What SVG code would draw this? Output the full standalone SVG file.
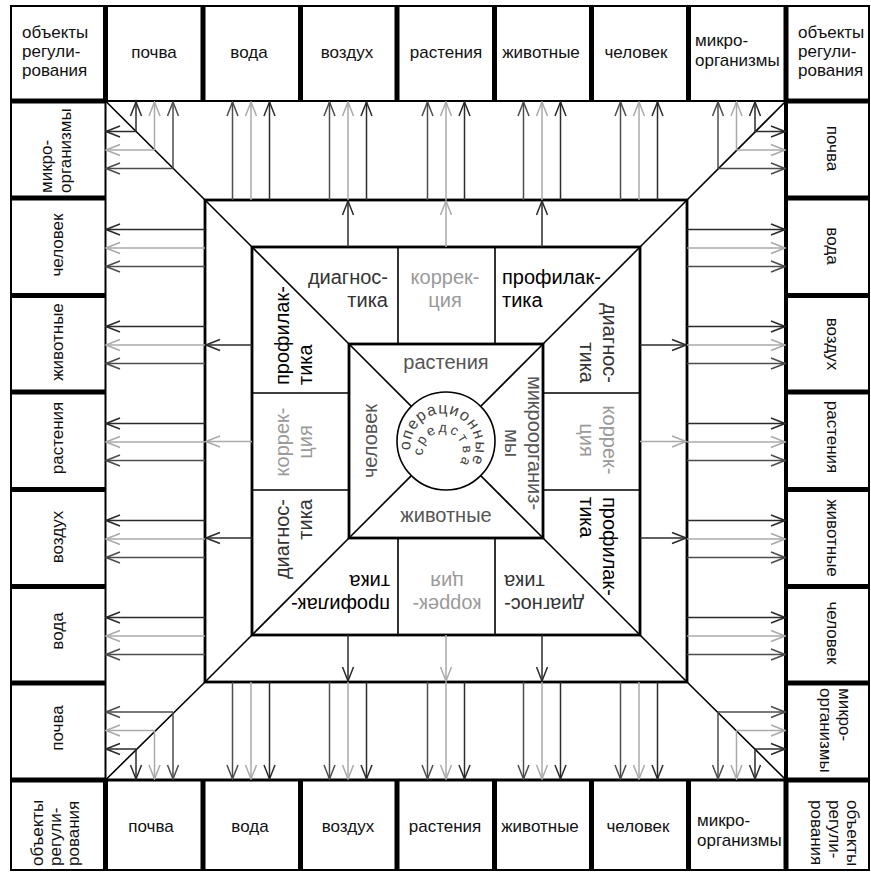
<svg xmlns="http://www.w3.org/2000/svg" width="871" height="872" viewBox="0 0 871 872">
<style>
text{font-family:"Liberation Sans",Arial,sans-serif;}
.lbl{font-size:17px;fill:#111;}
.r3{font-size:20px;}
.dg{fill:#333;}
.kr{fill:#9a9a9a;}
.pf{fill:#000;}
.r4{font-size:20px;fill:#555;}
.ct{font-size:16px;fill:#444;}
.mid{text-anchor:middle;}
.end{text-anchor:end;}
.thin{stroke:#000;stroke-width:2;fill:none;}
.thick{stroke:#000;stroke-width:5;fill:none;}
.sq{stroke:#000;stroke-width:2.8;fill:none;}
.dl{stroke:#000;stroke-width:1.6;fill:none;}
.a1{stroke:#4d4d4d;stroke-width:1.5;marker-end:url(#m1);}
.a2{stroke:#aaaaaa;stroke-width:1.5;marker-end:url(#m2);}
.a3{stroke:#2b2b2b;stroke-width:1.5;marker-end:url(#m3);}
</style>
<defs>
<marker id="m1" markerUnits="userSpaceOnUse" viewBox="0 0 16 14" markerWidth="16" markerHeight="14" refX="15" refY="7" orient="auto"><path d="M1,1.5 L15,7 L1,12.5" fill="none" stroke="#4d4d4d" stroke-width="1.5"/></marker>
<marker id="m2" markerUnits="userSpaceOnUse" viewBox="0 0 16 14" markerWidth="16" markerHeight="14" refX="15" refY="7" orient="auto"><path d="M1,1.5 L15,7 L1,12.5" fill="none" stroke="#aaaaaa" stroke-width="1.5"/></marker>
<marker id="m3" markerUnits="userSpaceOnUse" viewBox="0 0 16 14" markerWidth="16" markerHeight="14" refX="15" refY="7" orient="auto"><path d="M1,1.5 L15,7 L1,12.5" fill="none" stroke="#2b2b2b" stroke-width="1.5"/></marker>
<path id="arcO" d="M411.3,453.3 A32.5,32.5 0 1,1 469,465.6"/>
<path id="arcI" d="M423,453.7 A20,20 0 1,1 459.4,463.5"/>
</defs>
<rect width="871" height="872" fill="#fff"/>

<!-- grid -->
<g id="grid">
<rect class="thin" x="11" y="6" width="858" height="864"/>
<line class="thin" x1="105" y1="101" x2="786" y2="101"/>
<line class="thin" x1="105.5" y1="101" x2="105.5" y2="780"/>
<line class="thin" x1="105" y1="780" x2="786" y2="780" style="stroke-width:3"/>
<line class="thin" x1="786" y1="101" x2="786" y2="780" style="stroke-width:4"/>
<path class="thick" d="M105.5,6V101M203,6V101M300.5,6V101M397,6V101M494.5,6V101M591.5,6V101M688.5,6V101M786,6V101"/>
<path class="thick" d="M105.5,780V870M203,780V870M300.5,780V870M397,780V870M494.5,780V870M591.5,780V870M688.5,780V870M786,780V870"/>
<path class="thick" d="M11,101H105.5M11,198H105.5M11,295.5H105.5M11,392H105.5M11,489.5H105.5M11,586.5H105.5M11,683H105.5M11,780H105.5"/>
<path class="thick" d="M786,101H869M786,198H869M786,295.5H869M786,392H869M786,489.5H869M786,586.5H869M786,683H869M786,780H869"/>
</g>

<!-- rings -->
<g id="rings">
<rect class="sq" x="205" y="200" width="482" height="482"/>
<rect class="sq" x="252" y="247" width="388" height="388"/>
<rect class="sq" x="349" y="344" width="194" height="194"/>
<circle class="dl" cx="446" cy="441" r="49"/>
<polyline class="dl" points="105.5,101 205,200 252,247 349,344 411.35,406.35"/>
<polyline class="dl" points="786,101 687,200 640,247 543,344 480.65,406.35"/>
<polyline class="dl" points="105.5,780 205,682 252,635 349,538 411.35,475.65"/>
<polyline class="dl" points="786,780 687,682 640,635 543,538 480.65,475.65"/>
<path class="dl" d="M398,247V344M495,247V344M398,538V635M495,538V635M252,393H349M252,490H349M543,393H640M543,490H640"/>
</g>

<!-- connectors -->
<g id="connectors">
<!-- top -->
<line class="a1" x1="232.5" y1="200" x2="232.5" y2="102"/><line class="a2" x1="251" y1="200" x2="251" y2="102"/><line class="a3" x1="269.5" y1="200" x2="269.5" y2="102"/>
<line class="a1" x1="329.5" y1="200" x2="329.5" y2="102"/><line class="a2" x1="348" y1="200" x2="348" y2="102"/><line class="a3" x1="366.5" y1="200" x2="366.5" y2="102"/>
<line class="a1" x1="427.5" y1="200" x2="427.5" y2="102"/><line class="a2" x1="446" y1="200" x2="446" y2="102"/><line class="a3" x1="464.5" y1="200" x2="464.5" y2="102"/>
<line class="a1" x1="523.5" y1="200" x2="523.5" y2="102"/><line class="a2" x1="542" y1="200" x2="542" y2="102"/><line class="a3" x1="560.5" y1="200" x2="560.5" y2="102"/>
<line class="a1" x1="620.5" y1="200" x2="620.5" y2="102"/><line class="a2" x1="639" y1="200" x2="639" y2="102"/><line class="a3" x1="657.5" y1="200" x2="657.5" y2="102"/>
<!-- bottom -->
<line class="a1" x1="232.5" y1="682" x2="232.5" y2="779"/><line class="a2" x1="251" y1="682" x2="251" y2="779"/><line class="a3" x1="269.5" y1="682" x2="269.5" y2="779"/>
<line class="a1" x1="329.5" y1="682" x2="329.5" y2="779"/><line class="a2" x1="348" y1="682" x2="348" y2="779"/><line class="a3" x1="366.5" y1="682" x2="366.5" y2="779"/>
<line class="a1" x1="427.5" y1="682" x2="427.5" y2="779"/><line class="a2" x1="446" y1="682" x2="446" y2="779"/><line class="a3" x1="464.5" y1="682" x2="464.5" y2="779"/>
<line class="a1" x1="523.5" y1="682" x2="523.5" y2="779"/><line class="a2" x1="542" y1="682" x2="542" y2="779"/><line class="a3" x1="560.5" y1="682" x2="560.5" y2="779"/>
<line class="a1" x1="620.5" y1="682" x2="620.5" y2="779"/><line class="a2" x1="639" y1="682" x2="639" y2="779"/><line class="a3" x1="657.5" y1="682" x2="657.5" y2="779"/>
<!-- left -->
<line class="a3" x1="205" y1="229.5" x2="106" y2="229.5"/><line class="a2" x1="205" y1="248" x2="106" y2="248"/><line class="a1" x1="205" y1="266.5" x2="106" y2="266.5"/>
<line class="a3" x1="205" y1="326.5" x2="106" y2="326.5"/><line class="a2" x1="205" y1="345" x2="106" y2="345"/><line class="a1" x1="205" y1="363.5" x2="106" y2="363.5"/>
<line class="a3" x1="205" y1="423.5" x2="106" y2="423.5"/><line class="a2" x1="205" y1="442" x2="106" y2="442"/><line class="a1" x1="205" y1="460.5" x2="106" y2="460.5"/>
<line class="a3" x1="205" y1="520.5" x2="106" y2="520.5"/><line class="a2" x1="205" y1="539" x2="106" y2="539"/><line class="a1" x1="205" y1="557.5" x2="106" y2="557.5"/>
<line class="a3" x1="205" y1="617.5" x2="106" y2="617.5"/><line class="a2" x1="205" y1="636" x2="106" y2="636"/><line class="a1" x1="205" y1="654.5" x2="106" y2="654.5"/>
<!-- right -->
<line class="a3" x1="687" y1="229.5" x2="785" y2="229.5"/><line class="a2" x1="687" y1="248" x2="785" y2="248"/><line class="a1" x1="687" y1="266.5" x2="785" y2="266.5"/>
<line class="a3" x1="687" y1="326.5" x2="785" y2="326.5"/><line class="a2" x1="687" y1="345" x2="785" y2="345"/><line class="a1" x1="687" y1="363.5" x2="785" y2="363.5"/>
<line class="a3" x1="687" y1="423.5" x2="785" y2="423.5"/><line class="a2" x1="687" y1="442" x2="785" y2="442"/><line class="a1" x1="687" y1="460.5" x2="785" y2="460.5"/>
<line class="a3" x1="687" y1="520.5" x2="785" y2="520.5"/><line class="a2" x1="687" y1="539" x2="785" y2="539"/><line class="a1" x1="687" y1="557.5" x2="785" y2="557.5"/>
<line class="a3" x1="687" y1="617.5" x2="785" y2="617.5"/><line class="a2" x1="687" y1="636" x2="785" y2="636"/><line class="a1" x1="687" y1="654.5" x2="785" y2="654.5"/>
<!-- corners -->
<line class="a3" x1="136" y1="131.5" x2="136" y2="102"/><line class="a3" x1="136" y1="131.5" x2="106" y2="131.5"/>
<line class="a2" x1="154.5" y1="150" x2="154.5" y2="102"/><line class="a2" x1="154.5" y1="150" x2="106" y2="150"/>
<line class="a1" x1="173" y1="168.5" x2="173" y2="102"/><line class="a1" x1="173" y1="168.5" x2="106" y2="168.5"/>
<line class="a3" x1="755" y1="131.5" x2="755" y2="102"/><line class="a3" x1="755" y1="131.5" x2="785" y2="131.5"/>
<line class="a2" x1="736.5" y1="150" x2="736.5" y2="102"/><line class="a2" x1="736.5" y1="150" x2="785" y2="150"/>
<line class="a1" x1="718" y1="168.5" x2="718" y2="102"/><line class="a1" x1="718" y1="168.5" x2="785" y2="168.5"/>
<line class="a3" x1="136" y1="749" x2="136" y2="779"/><line class="a3" x1="136" y1="749" x2="106" y2="749"/>
<line class="a2" x1="154.5" y1="730.5" x2="154.5" y2="779"/><line class="a2" x1="154.5" y1="730.5" x2="106" y2="730.5"/>
<line class="a1" x1="173" y1="712" x2="173" y2="779"/><line class="a1" x1="173" y1="712" x2="106" y2="712"/>
<line class="a3" x1="755" y1="749" x2="755" y2="779"/><line class="a3" x1="755" y1="749" x2="785" y2="749"/>
<line class="a2" x1="736.5" y1="730.5" x2="736.5" y2="779"/><line class="a2" x1="736.5" y1="730.5" x2="785" y2="730.5"/>
<line class="a1" x1="718" y1="712" x2="718" y2="779"/><line class="a1" x1="718" y1="712" x2="785" y2="712"/>
<!-- ring 2 -->
<line class="a3" x1="348" y1="247" x2="348" y2="201"/><line class="a2" x1="446" y1="247" x2="446" y2="201"/><line class="a3" x1="542" y1="247" x2="542" y2="201"/>
<line class="a3" x1="348" y1="635" x2="348" y2="681"/><line class="a2" x1="446" y1="635" x2="446" y2="681"/><line class="a3" x1="542" y1="635" x2="542" y2="681"/>
<line class="a3" x1="252" y1="345" x2="206" y2="345"/><line class="a2" x1="252" y1="441.5" x2="206" y2="441.5"/><line class="a3" x1="252" y1="538" x2="206" y2="538"/>
<line class="a3" x1="640" y1="345" x2="686" y2="345"/><line class="a2" x1="640" y1="441.5" x2="686" y2="441.5"/><line class="a3" x1="640" y1="538" x2="686" y2="538"/>
</g>

<!-- top row -->
<g id="top-obj"><text class="lbl" x="22" y="38">объекты</text><text class="lbl" x="22" y="57">регули-</text><text class="lbl" x="22" y="76">рования</text></g>
<g id="top-pochva"><text class="lbl mid" x="154" y="58">почва</text></g>
<g id="top-voda"><text class="lbl mid" x="249" y="58">вода</text></g>
<g id="top-vozduh"><text class="lbl mid" x="347" y="58">воздух</text></g>
<g id="top-rast"><text class="lbl mid" x="446" y="58">растения</text></g>
<g id="top-zhiv"><text class="lbl mid" x="541" y="58">животные</text></g>
<g id="top-chel"><text class="lbl mid" x="636" y="58">человек</text></g>
<g id="top-mikro"><text class="lbl" x="695" y="46">микро-</text><text class="lbl" x="695" y="66">организмы</text></g>
<g id="top-obj2"><text class="lbl" x="798" y="38">объекты</text><text class="lbl" x="798" y="57">регули-</text><text class="lbl" x="798" y="76">рования</text></g>

<!-- bottom row -->
<g id="bot-obj" transform="rotate(-90 43 866)"><text class="lbl" x="43" y="866">объекты<tspan x="43" dy="18">регули-</tspan><tspan x="43" dy="18">рования</tspan></text></g>
<g id="bot-pochva"><text class="lbl mid" x="151" y="832">почва</text></g>
<g id="bot-voda"><text class="lbl mid" x="250" y="832">вода</text></g>
<g id="bot-vozduh"><text class="lbl mid" x="348" y="832">воздух</text></g>
<g id="bot-rast"><text class="lbl mid" x="445" y="832">растения</text></g>
<g id="bot-zhiv"><text class="lbl mid" x="540" y="832">животные</text></g>
<g id="bot-chel"><text class="lbl mid" x="638" y="832">человек</text></g>
<g id="bot-mikro"><text class="lbl" x="697" y="826">микро-</text><text class="lbl" x="697" y="846">организмы</text></g>
<g id="bot-obj2" transform="rotate(90 847 800)"><text class="lbl" x="847" y="800">объекты<tspan x="847" dy="18">регули-</tspan><tspan x="847" dy="18">рования</tspan></text></g>

<!-- left column -->
<g id="left-mikro" transform="rotate(-90 52 193)"><text class="lbl" x="52" y="193">микро-<tspan x="52" dy="19">организмы</tspan></text></g>
<g id="left-chel"><text class="lbl mid" transform="rotate(-90 63 245)" x="63" y="245">человек</text></g>
<g id="left-zhiv"><text class="lbl mid" transform="rotate(-90 63 342)" x="63" y="342">животные</text></g>
<g id="left-rast"><text class="lbl mid" transform="rotate(-90 63 438)" x="63" y="438">растения</text></g>
<g id="left-vozduh"><text class="lbl mid" transform="rotate(-90 63 537)" x="63" y="537">воздух</text></g>
<g id="left-voda"><text class="lbl mid" transform="rotate(-90 63 631)" x="63" y="631">вода</text></g>
<g id="left-pochva"><text class="lbl mid" transform="rotate(-90 63 728)" x="63" y="728">почва</text></g>

<!-- right column -->
<g id="right-pochva"><text class="lbl mid" transform="rotate(90 827 148.5)" x="827" y="148.5">почва</text></g>
<g id="right-voda"><text class="lbl mid" transform="rotate(90 827 246)" x="827" y="246">вода</text></g>
<g id="right-vozduh"><text class="lbl mid" transform="rotate(90 827 344)" x="827" y="344">воздух</text></g>
<g id="right-rast"><text class="lbl mid" transform="rotate(90 827 437)" x="827" y="437">растения</text></g>
<g id="right-zhiv"><text class="lbl mid" transform="rotate(90 827 538)" x="827" y="538">животные</text></g>
<g id="right-chel"><text class="lbl mid" transform="rotate(90 827 633)" x="827" y="633">человек</text></g>
<g id="right-mikro" transform="rotate(90 839 688)"><text class="lbl" x="839" y="688">микро-<tspan x="839" dy="19">организмы</tspan></text></g>

<!-- ring 3 -->
<g id="ring3-top">
<text class="r3 dg end" x="388" y="284">диагнос-<tspan x="388" dy="23">тика</tspan></text>
<text class="r3 kr mid" x="445" y="284">коррек-<tspan x="445" dy="23">ция</tspan></text>
<text class="r3 pf" x="502" y="284">профилак-<tspan x="502" dy="23">тика</tspan></text>
</g>
<g id="ring3-left" transform="rotate(-90 446 441)">
<text class="r3 dg end" x="388" y="284">диагнос-<tspan x="388" dy="23">тика</tspan></text>
<text class="r3 kr mid" x="445" y="284">коррек-<tspan x="445" dy="23">ция</tspan></text>
<text class="r3 pf" x="502" y="284">профилак-<tspan x="502" dy="23">тика</tspan></text>
</g>
<g id="ring3-right" transform="rotate(90 446 441)">
<text class="r3 dg end" x="388" y="284">диагнос-<tspan x="388" dy="23">тика</tspan></text>
<text class="r3 kr mid" x="445" y="284">коррек-<tspan x="445" dy="23">ция</tspan></text>
<text class="r3 pf" x="502" y="284">профилак-<tspan x="502" dy="23">тика</tspan></text>
</g>
<g id="ring3-bottom" transform="rotate(180 446 441)">
<text class="r3 dg end" x="388" y="284">диагнос-<tspan x="388" dy="23">тика</tspan></text>
<text class="r3 kr mid" x="445" y="284">коррек-<tspan x="445" dy="23">ция</tspan></text>
<text class="r3 pf" x="502" y="284">профилак-<tspan x="502" dy="23">тика</tspan></text>
</g>

<!-- ring 4 -->
<g id="r4-rast"><text class="r4 mid" x="446" y="369">растения</text></g>
<g id="r4-zhiv"><text class="r4 mid" x="446" y="522">животные</text></g>
<g id="r4-chel"><text class="r4 mid" transform="rotate(-90 377 441)" x="377" y="441">человек</text></g>
<g id="r4-mikro" transform="rotate(90 528 443)"><text class="r4 mid" x="528" y="443">микроорганиз-<tspan x="528" dy="23">мы</tspan></text></g>

<!-- center -->
<g id="center">
<text class="ct" style="letter-spacing:1.2px"><textPath href="#arcO" startOffset="50%" text-anchor="middle">операционные</textPath></text>
<text class="ct" style="font-size:14px;letter-spacing:2.6px"><textPath href="#arcI" startOffset="50%" text-anchor="middle">средства</textPath></text>
</g>
</svg>
